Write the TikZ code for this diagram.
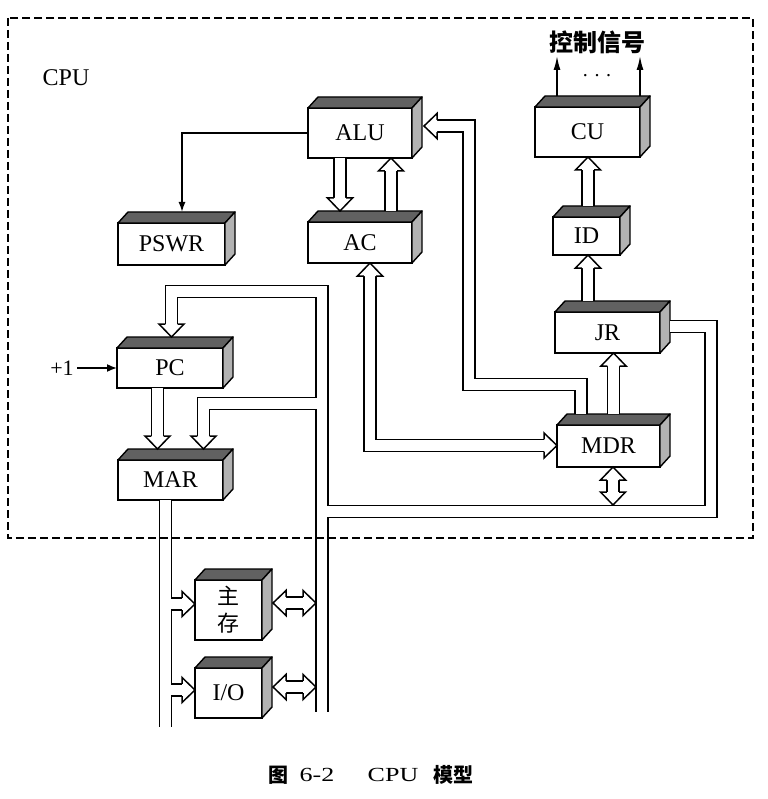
\documentclass[tikz,border=0pt]{standalone}
\usepackage{fontspec}
\setmainfont{Liberation Serif}
\newfontfamily\cjk{Noto Sans CJK SC}
\newfontfamily\capfont[FakeStretch=1.3]{Liberation Serif}
\usetikzlibrary{arrows.meta,calc}

\tikzset{
  reg/.style={draw, line width=1.7pt, fill=white, inner sep=0pt, outer sep=0pt,
              font=\fontsize{24}{28}\selectfont},
  topface/.style={draw, line width=1.4pt, fill=black!62, line join=round},
  sideface/.style={draw, line width=1.4pt, fill=black!30, line join=round},
  bus/.style={draw, line width=1.5pt, double=white, double distance=10.8pt,
              line join=miter, line cap=butt},
  wire/.style={line width=1.6pt},
  frame/.style={line width=1.5pt, dash pattern=on 8pt off 4pt},
  % open head of a wide (double-line) arrow, tip at the origin, pointing to +x
  pics/hh/.style={code={
    \draw[line width=1.5pt, fill=white, line join=miter, miter limit=10]
      (-13,6.15) -- (-13,12.5) -- (0,0) -- (-13,-12.5) -- (-13,-6.15);}},
}

\begin{document}
\begin{tikzpicture}[x=1pt, y=-1pt]
\useasboundingbox (0,0) rectangle (767,799);

% ---------- registers and units ----------
\node[reg, minimum width=104pt, minimum height=50pt] (alu)  at (360,133)   {ALU};
\node[reg, minimum width=104pt, minimum height=41pt] (ac)   at (360,242.5) {AC};
\node[reg, minimum width=107pt, minimum height=42pt] (pswr) at (171.5,244) {PSWR};
\node[reg, minimum width=105pt, minimum height=50pt] (cu)   at (587.5,132) {CU};
\node[reg, minimum width=67pt,  minimum height=38pt] (id)   at (586.5,236) {ID};
\node[reg, minimum width=105pt, minimum height=41pt] (jr)   at (607.5,332.5) {JR};
\node[reg, minimum width=103pt, minimum height=42pt] (mdr)  at (608.5,446) {MDR};
\node[reg, minimum width=106pt, minimum height=40pt] (pc)   at (170,368)   {PC};
\node[reg, minimum width=105pt, minimum height=40pt] (mar)  at (170.5,480) {MAR};
\node[reg, minimum width=67pt,  minimum height=60pt, align=center,
      font=\cjk\fontsize{22}{27}\selectfont] (mem) at (228.5,610) {主\\存};
\node[reg, minimum width=67pt,  minimum height=50pt] (io)   at (228.5,693) {I/O};

% 3-D top and side faces
\foreach \n in {alu,ac,pswr,cu,id,jr,mdr,pc,mar,mem,io}{
  \filldraw[topface] (\n.north west) -- ++(10,-11) -- ($(\n.north east)+(10,-11)$)
                     -- (\n.north east) -- cycle;
  \filldraw[sideface] (\n.north east) -- ++(10,-11) -- ($(\n.south east)+(10,-11)$)
                      -- (\n.south east) -- cycle;
}

% ---------- texts ----------
\node[font=\fontsize{24}{28}\selectfont] (cpulabel) at (66,78) {CPU};
\node[font=\cjk\bfseries\fontsize{24}{28}\selectfont] (sig) at (597,42) {控制信号};
\node[font=\fontsize{20}{22}\selectfont] (dots) at (597,76) {. . .};
\node[font=\fontsize{22}{26}\selectfont] (inc) at (62,368) {+1};

% ---------- thin signal lines ----------
\draw[wire, -{Latex[length=10pt,width=7pt]}] (alu.west) -| ($(pswr.north)+(10.5,-11)$);
\draw[wire, -{Latex[length=14pt,width=7pt]}] ($(cu.north west)+(22,-11)$) -- ++(0,-40);
\draw[wire, -{Latex[length=14pt,width=7pt]}] ($(cu.north west)+(105,-11)$) -- ++(0,-40);
\draw[wire, -{Latex[length=10pt,width=8pt]}] (inc.east) -- (pc.west);

% ---------- short wide arrows ----------
% ALU -> AC
\draw[bus] (340,158) -- (340,198);
\pic[rotate=-90] at (340,211) {hh};
% AC -> ALU
\draw[bus] (391,211) -- (391,171);
\pic[rotate=90] at (391,158) {hh};
% MDR -> JR
\draw[bus] (613.5,414) -- (613.5,366);
\pic[rotate=90] at (613.5,353) {hh};
% JR -> ID
\draw[bus] (588,301) -- (588,268);
\pic[rotate=90] at (588,255) {hh};
% ID -> CU
\draw[bus] (588,206) -- (588,170);
\pic[rotate=90] at (588,157) {hh};
% PC -> MAR
\draw[bus] (157.5,388) -- (157.5,436);
\pic[rotate=-90] at (157.5,449) {hh};
% MDR <-> data bus
\draw[bus] (613,480) -- (613,492);
\pic[rotate=90] at (613,467) {hh};
\pic[rotate=-90] at (613,505) {hh};
% main memory <-> data bus
\draw[bus] (286,603) -- (303,603);
\pic[rotate=180] at (273,603) {hh};
\pic at (316,603) {hh};
% I/O <-> data bus
\draw[bus] (286,687) -- (303,687);
\pic[rotate=180] at (273,687) {hh};
\pic at (316,687) {hh};

% ---------- buses ----------
% MDR -> ALU
\draw[bus] ($(mdr.north west)+(24,-11)$) -- (581,384.5) -- (469,384.5) -- (469,126) -- (437,126);
\pic[rotate=180] at (424,126) {hh};

% AC <-> MDR
\draw[bus] (370,276) -- (370,445.5) -- (544,445.5);
\pic[rotate=90] at (370,263) {hh};
\pic at (557,445.5) {hh};

% data bus: PC, MAR, JR, MDR, memory, I/O
\draw[bus] (171.5,324) -- (171.5,291.5) -- (322,291.5) -- (322,712)
           (322,403.5) -- (203.5,403.5) -- (203.5,436)
           (322,511.5) -- (711,511.5) -- (711,326.5) -- (670,326.5);
\pic[rotate=-90] at (171.5,337) {hh};
\pic[rotate=-90] at (203.5,449) {hh};

% address bus from MAR
\draw[bus] (165.5,500) -- (165.5,727)
           (165.5,604) -- (182,604)
           (165.5,690) -- (182,690);
\pic at (195,604) {hh};
\pic at (195,690) {hh};

% ---------- CPU boundary ----------
\draw[frame] (8,18) rectangle (753,538);

% ---------- caption ----------
\node[font=\cjk\bfseries\fontsize{20}{24}\selectfont] (capfig) at (278,775) {图};
\node[font=\capfont\fontsize{20}{24}\selectfont] (capnum) at (317,775) {6-2};
\node[font=\capfont\fontsize{20}{24}\selectfont] (capcpu) at (393,775) {CPU};
\node[font=\cjk\bfseries\fontsize{20}{24}\selectfont] (capmodel) at (453,775) {模型};
\end{tikzpicture}
\end{document}
